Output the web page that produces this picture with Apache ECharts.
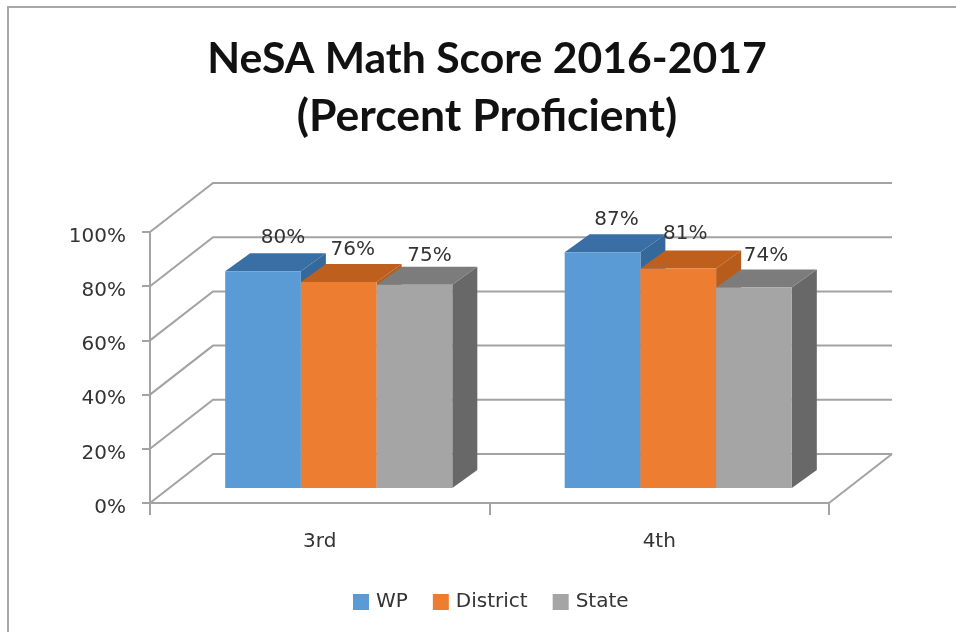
<!DOCTYPE html>
<html>
<head>
<meta charset="utf-8">
<title>NeSA Math Score</title>
<style>
html, body { margin: 0; padding: 0; background: #fff; }
#chart { width: 956px; height: 637px; }
</style>
<script src="https://cdn.jsdelivr.net/npm/echarts@6/dist/echarts.min.js"></script>
</head>
<body>
<div id="chart"></div>
<script>
var categories = ['3rd', '4th'];
var wpValues = [80, 87];
var districtValues = [76, 81];
var stateValues = [75, 74];
var yTicks = [0, 20, 40, 60, 80, 100];

var titleLine1 = 'NeSA Math Score 2016-2017';
var titleLine2 = '(Percent Proficient)';
var labelFont = '"DejaVu Sans", sans-serif';
var textColor = '#333';
var lineColor = '#a3a3a3';

// 3d look: how far the back wall sits from the front axis, and where the bars stand in between
var wallDx = 63, wallDy = -49;
var barDx = 19, barDy = -15;
var depthDx = 25, depthDy = -18;
var barShare = 0.223;

var chart = echarts.init(document.getElementById('chart'));

function wallSeries() {
    return {
        type: 'custom',
        silent: true,
        z: 1,
        coordinateSystem: 'cartesian2d',
        data: yTicks.map(function (t) { return [0, t]; }),
        encode: { x: 0, y: 1 },
        renderItem: function (params, api) {
            var left = api.coord([0, api.value(1)]);
            var band = api.size([1, 0])[0];
            var x0 = left[0] - band / 2;
            var y = left[1];
            var x1 = x0 + band * categories.length;
            var style = { stroke: lineColor, lineWidth: 2, fill: null };
            var kids = [{
                type: 'polyline',
                shape: { points: [[x0, y], [x0 + wallDx, y + wallDy], [x1 + wallDx, y + wallDy]] },
                style: style
            }];
            // floor edge on the right only at 0%
            if (api.value(1) === 0) {
                kids.push({
                    type: 'line',
                    shape: { x1: x1, y1: y, x2: x1 + wallDx, y2: y + wallDy },
                    style: style
                });
            }
            return { type: 'group', children: kids };
        }
    };
}

function barSeries(name, values, index, front, top, side, nudge) {
    return {
        type: 'custom',
        name: name,
        z: 3 + index,
        coordinateSystem: 'cartesian2d',
        itemStyle: { color: front },
        data: values.map(function (v, i) { return [i, v]; }),
        encode: { x: 0, y: 1 },
        renderItem: function (params, api) {
            var cat = api.value(0);
            var val = api.value(1);
            var band = api.size([1, 0])[0];
            var w = band * barShare;
            var topPt = api.coord([cat, val]);
            var basePt = api.coord([cat, 0]);
            var x0 = topPt[0] + barDx + (index - 1.5) * w;
            var x1 = x0 + w;
            var yTop = topPt[1] + barDy;
            var yBase = basePt[1] + barDy;
            var n = nudge[params.dataIndex];
            return {
                type: 'group',
                children: [{
                    type: 'polygon',
                    shape: { points: [[x1, yTop], [x1 + depthDx, yTop + depthDy], [x1 + depthDx, yBase + depthDy], [x1, yBase]] },
                    style: { fill: side }
                }, {
                    type: 'polygon',
                    shape: { points: [[x0, yTop], [x0 + depthDx, yTop + depthDy], [x1 + depthDx, yTop + depthDy], [x1, yTop]] },
                    style: { fill: top }
                }, {
                    type: 'rect',
                    shape: { x: x0, y: yTop, width: w, height: yBase - yTop },
                    style: { fill: front }
                }, {
                    type: 'text',
                    style: {
                        text: val + '%',
                        x: (x0 + x1) / 2 + 14 + n[0],
                        y: yTop - 32 + n[1],
                        align: 'center',
                        verticalAlign: 'middle',
                        font: '20px ' + labelFont,
                        fill: textColor
                    }
                }]
            };
        }
    };
}

var option = {
    animation: false,
    backgroundColor: '#fff',
    title: [{
        text: titleLine1,
        left: 482,
        top: 33,
        textAlign: 'center',
        textStyle: { fontFamily: 'Lato, sans-serif', fontWeight: 'bold', fontSize: 42.7, color: '#111' }
    }, {
        text: titleLine2,
        left: 482,
        top: 89,
        textAlign: 'center',
        textStyle: { fontFamily: 'Lato, sans-serif', fontWeight: 'bold', fontSize: 44.5, color: '#111' }
    }],
    legend: {
        left: 348,
        top: 587,
        icon: 'rect',
        itemWidth: 16,
        itemHeight: 16,
        itemGap: 25,
        data: ['WP', 'District', 'State'],
        textStyle: { fontFamily: labelFont, fontSize: 20, color: textColor, padding: [0, 0, 0, 2] }
    },
    grid: { left: 150, right: 127, top: 232, bottom: 134 },
    xAxis: {
        type: 'category',
        data: categories,
        boundaryGap: true,
        axisLine: { lineStyle: { color: lineColor, width: 2 } },
        axisTick: { show: true, length: 12, lineStyle: { color: lineColor, width: 2 } },
        axisLabel: { margin: 29, fontFamily: labelFont, fontSize: 20, color: textColor }
    },
    yAxis: {
        type: 'value',
        min: 0,
        max: 100,
        interval: 20,
        splitLine: { show: false },
        axisLine: { show: true, lineStyle: { color: lineColor, width: 2 } },
        axisTick: { show: true, length: 8, lineStyle: { color: lineColor, width: 2 } },
        axisLabel: {
            formatter: '{value}%',
            margin: 24,
            verticalAlign: 'top',
            lineHeight: 9,
            fontFamily: labelFont,
            fontSize: 20,
            color: textColor
        }
    },
    graphic: [{
        type: 'polyline',
        silent: true,
        shape: { points: [[956, 7], [8, 7], [8, 632]] },
        style: { stroke: '#a8a8a8', lineWidth: 2, fill: null }
    }],
    series: [
        wallSeries(),
        barSeries('WP', wpValues, 0, '#5b9bd5', '#3a6fa5', '#35699b', [[6, -1], [0, 0]]),
        barSeries('District', districtValues, 1, '#ed7d31', '#be5f1e', '#b85c1b', [[0, 0], [-7, -3]]),
        barSeries('State', stateValues, 2, '#a5a5a5', '#7c7c7c', '#686868', [[1, 3], [-2, 0]])
    ]
};

chart.setOption(option);
</script>
</body>
</html>
